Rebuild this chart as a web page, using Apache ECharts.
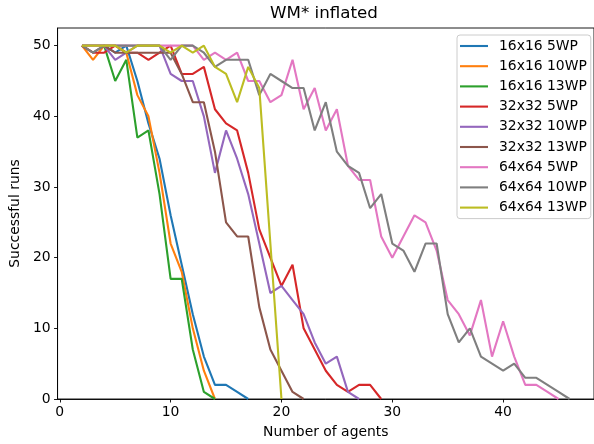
<!DOCTYPE html>
<html>
<head>
<meta charset="utf-8">
<script src="https://cdn.jsdelivr.net/npm/echarts@6/dist/echarts.min.js"></script>
<style>
html,body{margin:0;padding:0;background:#fff;}
#chart{width:594px;height:444px;}
</style>
</head>
<body>
<div id="chart"></div>
<script>
// Data (x starts at 2 agents for every series)
const xStart = 2;
const seriesNames = ["16x16 5WP","16x16 10WP","16x16 13WP","32x32 5WP","32x32 10WP","32x32 13WP","64x64 5WP","64x64 10WP","64x64 13WP"];
const s16_5  = [50,50,50,49,50,45,39,34,26,19,12,6,2,2,1,0];
const s16_10 = [50,48,50,50,49,43,40,32,22,18,10,4,0];
const s16_13 = [50,50,50,45,48,37,38,29,17,17,7,1,0];
const s32_5  = [50,49,49,50,49,49,48,49,50,46,46,47,41,39,38,32,24,20,16,19,10,7,4,2,1,2,2,0];
const s32_10 = [50,50,50,48,49,50,50,50,46,45,45,40,32,38,34,29,22,15,16,14,12,8,5,6,1,0];
const s32_13 = [50,49,50,49,49,49,49,49,49,46,42,42,35,25,23,23,13,7,4,1,0];
const s64_5  = [50,50,50,50,50,50,50,50,50,50,50,48,49,48,49,45,45,42,43,48,41,44,38,41,33,31,31,23,20,23,26,25,21,14,12,9,14,6,11,6,2,2,1,0];
const s64_10 = [50,49,50,50,50,50,50,50,48,50,50,49,47,48,48,48,43,46,45,44,44,38,42,35,33,32,27,29,22,21,18,22,22,12,8,10,6,5,4,5,3,3,2,1,0];
const s64_13 = [50,50,50,50,49,50,50,50,49,50,49,50,47,46,42,47,44,22,0];
const seriesValues = [s16_5,s16_10,s16_13,s32_5,s32_10,s32_13,s64_5,s64_10,s64_13];
const xTicks = [0,10,20,30,40];
const yTicks = [0,10,20,30,40,50];
const titleText = "WM* inflated";
const xName = "Number of agents";
const yName = "Successful runs";

const colors = ["#1f77b4","#ff7f0e","#2ca02c","#d62728","#9467bd","#8c564b","#e377c2","#7f7f7f","#bcbd22"];
const FONT = "DejaVu Sans";

const chart = echarts.init(document.getElementById('chart'), null, {renderer:'canvas'});
const series = seriesNames.map((name, k) => ({
  name: name,
  type: 'line',
  data: seriesValues[k].map((v, i) => [xStart + i, v]),
  symbol: 'none',
  showSymbol: false,
  animation: false,
  lineStyle: {width: 2.1, color: colors[k]},
  itemStyle: {color: colors[k]},
  clip: true
}));

chart.setOption({
  animation: false,
  backgroundColor: '#fff',
  title: {
    text: titleText, left: 324, top: 5, textAlign: 'center', padding: 0,
    textStyle: {fontFamily: FONT, fontSize: 16.7, fontWeight: 'normal', color: '#000'}
  },
  legend: {
    orient: 'vertical', left: 457, top: 35,
    icon: 'rect',
    itemWidth: 28, itemHeight: 2.1, itemGap: 4.2,
    padding: [3, 4, 3, 3],
    backgroundColor: 'rgba(255,255,255,0.8)', borderColor: '#cccccc', borderWidth: 1, borderRadius: 3,
    textStyle: {fontFamily: FONT, fontSize: 13.9, color: '#000', lineHeight: 16, padding: [0, 0, 0, 6]},
    data: seriesNames
  },
  grid: {
    left: 53, top: 28, width: 541.5, height: 372,
    show: true, borderColor: '#000', borderWidth: 0.9, backgroundColor: 'transparent'
  },
  xAxis: {
    type: 'value', min: -0.2, max: 48.2,
    name: xName, nameLocation: 'middle', nameGap: 26,
    nameTextStyle: {fontFamily: FONT, fontSize: 13.9, color: '#000'},
    axisLine: {show: true, onZero: false, lineStyle: {color: '#000', width: 0.9}},
    axisTick: {show: true, inside: false, length: 3.5, lineStyle: {color: '#000', width: 0.9}, customValues: xTicks},
    axisLabel: {fontFamily: FONT, fontSize: 13.9, color: '#000', margin: 6, customValues: xTicks},
    splitLine: {show: false}
  },
  yAxis: {
    type: 'value', min: 0, max: 52.5,
    name: yName, nameLocation: 'middle', nameGap: 30, nameRotate: 90,
    nameTextStyle: {fontFamily: FONT, fontSize: 13.9, color: '#000'},
    axisLine: {show: true, onZero: false, lineStyle: {color: '#000', width: 0.9}},
    axisTick: {show: true, inside: false, length: 3.5, lineStyle: {color: '#000', width: 0.9}, customValues: yTicks},
    axisLabel: {fontFamily: FONT, fontSize: 13.9, color: '#000', margin: 7, customValues: yTicks},
    splitLine: {show: false}
  },
  series: series
});
</script>
</body>
</html>
